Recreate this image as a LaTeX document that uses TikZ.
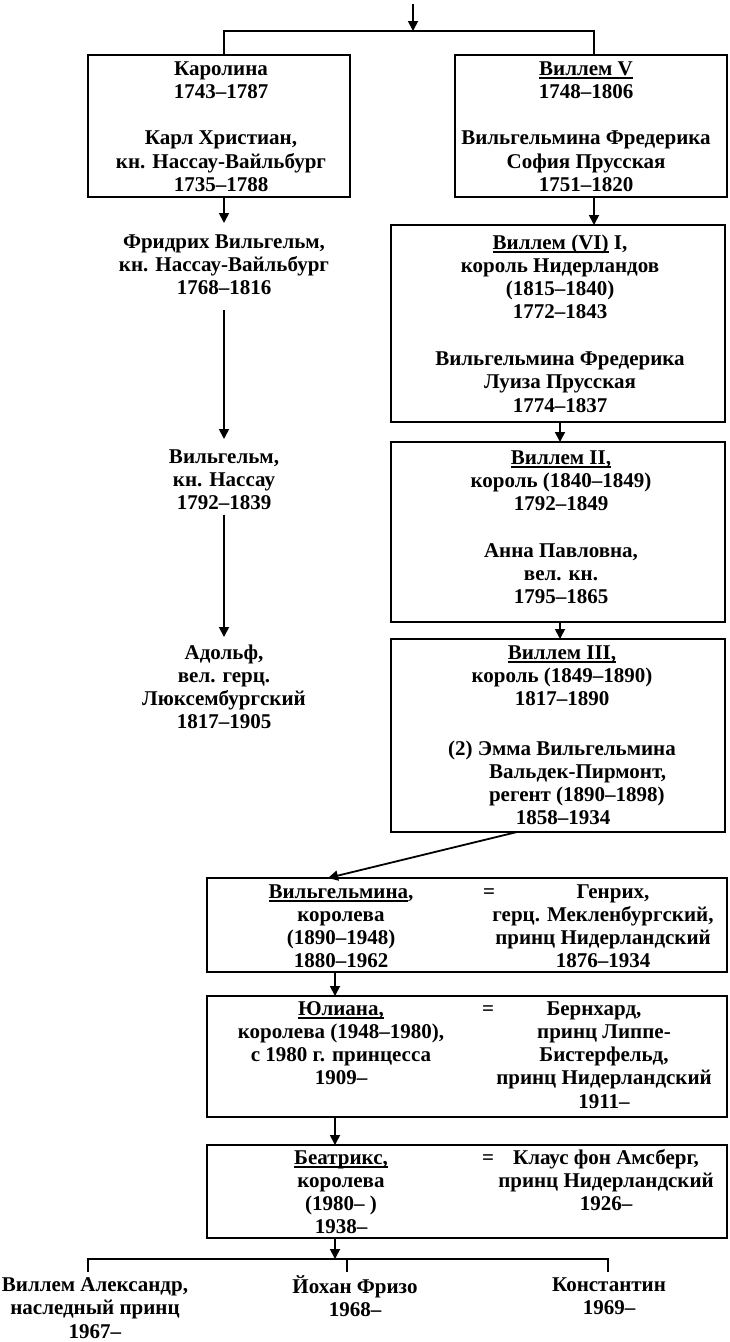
\documentclass[tikz,border=0pt]{standalone}
\usepackage{fontspec}
\setmainfont{Liberation Serif}
\usetikzlibrary{arrows.meta}
\newlength\ulw
\newcommand\myul[1]{\settowidth\ulw{#1}\rlap{\rule[-3.5pt]{\ulw}{1.3pt}}#1}
\newcommand\fsz{\fontsize{21}{23.3}\selectfont\bfseries}
\begin{document}
\begin{tikzpicture}[x=1pt,y=-1pt,
  box/.style={draw, line width=2pt, inner sep=0pt, outer sep=0pt, anchor=north west},
  txt/.style={inner sep=0pt, outer sep=0pt, align=center, anchor=north, font=\fsz},
  txtl/.style={inner sep=0pt, outer sep=0pt, align=left, anchor=north west, font=\fsz},
  arr/.style={line width=1.8pt, -{Triangle[width=10pt,length=10pt]}},
  ln/.style={line width=1.8pt}]
\useasboundingbox (0,0) rectangle (729,1342);

% ---------- boxes ----------
\node[box, minimum width=262pt, minimum height=142pt] (kar) at (88,55) {};
\node[box, minimum width=272pt, minimum height=142pt] (wv) at (455,55) {};
\node[box, minimum width=334pt, minimum height=197pt] (b6) at (391,225) {};
\node[box, minimum width=334pt, minimum height=180pt] (b2) at (391,442) {};
\node[box, minimum width=334pt, minimum height=193pt] (b3) at (391,639) {};
\node[box, minimum width=520pt, minimum height=94pt] (bw) at (207,878) {};
\node[box, minimum width=520pt, minimum height=121pt] (bj) at (207,996) {};
\node[box, minimum width=520pt, minimum height=93pt] (bb) at (207,1145) {};

% ---------- texts ----------
\node[txt] (tkar) at (221,58.7) {\strut Каролина\\1743–1787\\[23.3pt]Карл Христиан,\\кн. Нассау-Вайльбург\\1735–1788};
\node[txt] (twv) at (586,58.7) {\strut\myul{Виллем V}\\1748–1806\\[23.3pt]Вильгельмина Фредерика\\София Прусская\\1751–1820};
\node[txt] (fw) at (224,231.7) {\strut Фридрих Вильгельм,\\кн. Нассау-Вайльбург\\1768–1816\strut};
\node[txt] (t6) at (560,232.7) {\strut\myul{Виллем (VI)} I,\\король Нидерландов\\(1815–1840)\\1772–1843\\[23.3pt]Вильгельмина Фредерика\\Луиза Прусская\\1774–1837};
\node[txt] (wi) at (224,446.7) {\strut Вильгельм,\\кн. Нассау\\1792–1839\strut};
\node[txt] (t2) at (561,447.7) {\strut\myul{Виллем II,}\\король (1840–1849)\\1792–1849\\[23.3pt]Анна Павловна,\\вел. кн.\\1795–1865};
\node[txt] (ad) at (224,642.7) {\strut Адольф,\\вел. герц.\\Люксембургский\\1817–1905};
\node[txt] (t3) at (562,642.7) {\strut\myul{Виллем III,}\\король (1849–1890)\\1817–1890};
\node[txt] (em1) at (562,738.7) {\strut(2) Эмма Вильгельмина};
\node[txtl] (em2) at (489,762.2) {\strut Вальдек-Пирмонт,\\регент (1890–1898)};
\node[txt] (em3) at (563,808.2) {\strut 1858–1934};

\node[txt] (wl) at (341,881.7) {\strut\myul{Вильгельмина},\\королева\\(1890–1948)\\1880–1962};
\node[txt] (weq) at (489,881.7) {\strut=};
\node[txt] (wr) at (603,881.7) {\strut\hspace*{20pt}Генрих,\\герц. Мекленбургский,\\принц Нидерландский\\1876–1934};

\node[txt] (jl) at (341,998.7) {\strut\myul{Юлиана,}\\королева (1948–1980),\\с 1980 г. принцесса\\1909–};
\node[txt] (jeq) at (488,998.7) {\strut=};
\node[txt] (jr) at (604,998.7) {\strut Бернхард,\hspace*{20pt}\\принц Липпе-\\Бистерфельд,\\принц Нидерландский\\1911–};

\node[txt] (bl) at (341,1147.7) {\strut\myul{Беатрикс,}\\королева\\(1980– )\\1938–};
\node[txt] (beq) at (488,1147.7) {\strut=};
\node[txt] (br) at (606,1147.7) {\strut Клаус фон Амсберг,\\принц Нидерландский\\1926–};

\node[txt] (c1) at (95,1275.2) {\strut Виллем Александр,\\наследный принц\\1967–};
\node[txt] (c2) at (355,1275.2) {\strut Йохан Фризо\\1968–};
\node[txt] (c3) at (609,1275.2) {\strut Константин\\1969–};

% ---------- helper x positions ----------
\coordinate (top) at (413,4);
\coordinate (jn) at (413,31);
\coordinate (xl) at (224,0);
\coordinate (xr) at (594,0);
\coordinate (xm) at (560,0);
\coordinate (s1) at (517,0);
\coordinate (s2) at (328,0);
\coordinate (xc) at (335,0);
\coordinate (jc) at (335,1259);
\coordinate (d1) at (88,0);
\coordinate (d2) at (347,0);
\coordinate (d3) at (608,0);

% ---------- connectors ----------
\draw[arr] (top) -- (jn);
\draw[ln] (kar.north -| xl) |- (jn) -| (wv.north -| xr);
\draw[arr] (kar.south -| xl) -- (fw.north) [shorten >=8.7pt];
\draw[arr, shorten <=8.4pt, shorten >=7.7pt] (fw.south) -- (wi.north);
\draw[arr, shorten <=-2pt, shorten >=5.7pt] (wi.south) -- (ad.north);
\draw[arr] (wv.south -| xr) -- (b6.north -| xr);
\draw[arr] (b6.south -| xm) -- (b2.north -| xm);
\draw[arr] (b2.south -| xm) -- (b3.north -| xm);
\draw[arr] (b3.south -| s1) -- (bw.north -| s2);
\draw[arr] (bw.south -| xc) -- (bj.north -| xc);
\draw[arr] (bj.south -| xc) -- (bb.north -| xc);
\draw[arr] (bb.south -| xc) -- (jc);
\draw[ln, shorten <=3pt, shorten >=3pt] (c1.north -| d1) |- (jc) -| (c3.north -| d3);
\draw[ln, shorten >=3pt] (jc -| d2) -- (c2.north -| d2);
\end{tikzpicture}
\end{document}
